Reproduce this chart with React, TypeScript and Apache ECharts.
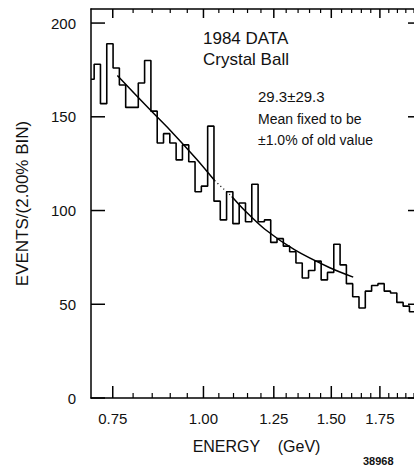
import React, { useEffect, useRef } from "react";
import * as echarts from "echarts";

// Histogram: bins of 0.02 in ln(E) ("2.00% bins"), first bin centred on 0.70 GeV
const BIN_FIRST_CENTER_GEV = 0.7;
const BIN_LOG_WIDTH = 0.02;
const binCounts = [
  170, 178, 157, 189, 176, 167, 155, 155, 168, 180, 153, 136, 141, 136, 127, 135,
  126, 110, 113, 145, 105, 95, 110, 93, 104, 94, 114, 94, 95, 83, 85, 81, 78, 72,
  64, 68, 73, 63, 67, 82, 71, 61, 54, 48, 57, 60, 61, 57, 56, 51, 49, 46, 45,
];

// Fitted curve (solid, with a short dotted stretch between indices 4 and 5)
const fitEnergy = [0.761, 0.843, 0.899, 0.978, 1.036, 1.094, 1.14, 1.215, 1.336, 1.493, 1.608];
const fitEvents = [172, 154, 143, 127.5, 116, 107.5, 100, 90, 79, 69.5, 64.5];
const FIT_DOT_FROM = 4;
const FIT_DOT_TO = 5;

// Axes
const X_MIN = 0.7;
const X_MAX = 2.0;
const Y_MIN = 0;
const Y_MAX = 207.5;
const Y_STEP = 50;
const xMajorTicks = [0.75, 1.0, 1.25, 1.5, 1.75];
const xMinorTicks = [
  0.8, 0.85, 0.9, 0.95, 1.05, 1.1, 1.15, 1.2, 1.3, 1.35, 1.4, 1.45, 1.55, 1.6, 1.65,
  1.7, 1.8, 1.85, 1.9, 1.95,
];
const yTicks = [0, 50, 100, 150, 200];

const X_TITLE = "ENERGY    (GeV)";
const Y_TITLE = "EVENTS/(2.00% BIN)";
const notes = [
  { text: "1984 DATA", x: 203, y: 40, size: 17 },
  { text: "Crystal Ball", x: 203, y: 61, size: 17 },
  { text: "29.3±29.3", x: 258, y: 98, size: 15 },
  { text: "Mean fixed to be", x: 258, y: 120, size: 14 },
  { text: "±1.0% of old value", x: 258, y: 141, size: 14 },
];
const FIG_ID = "38968";

const INK = "#000";
const TEXT = "#111";

export default function App() {
  const ref = useRef<HTMLDivElement>(null);

  useEffect(() => {
    if (!ref.current) return;
    const chart = echarts.init(ref.current, null, { renderer: "svg" });

    const ln = Math.log;
    const hist = binCounts.map((c, k) => [ln(BIN_FIRST_CENTER_GEV) + k * BIN_LOG_WIDTH, c]);
    const fit = fitEnergy.map((e, i) => [ln(e), fitEvents[i]]);
    // energy ticks: [ln(E), isMajor]
    const xTickData = [
      ...xMajorTicks.map((v) => [ln(v), 1]),
      ...xMinorTicks.map((v) => [ln(v), 0]),
    ];
    // event-count ticks along both vertical edges: [ln(Emin), events]
    const yTickData = yTicks.map((v) => [ln(X_MIN), v]);

    const axisLine = { show: true, onZero: false, lineStyle: { color: INK, width: 1.5 } };

    chart.setOption({
      animation: false,
      backgroundColor: "#fff",
      title: [
        ...notes.map((n) => ({
          text: n.text,
          left: n.x,
          top: n.y - Math.round(n.size * 0.6),
          padding: 0,
          textStyle: { fontSize: n.size, fontWeight: "normal", color: TEXT },
        })),
        {
          text: FIG_ID,
          left: 363,
          top: 455,
          padding: 0,
          textStyle: { fontSize: 11, fontWeight: "bold", color: TEXT },
        },
      ],
      grid: {
        left: 91,
        top: 9,
        width: 331,
        height: 389,
        containLabel: false,
        outerBoundsMode: "none",
      },
      xAxis: [
        {
          type: "value",
          min: ln(X_MIN),
          max: ln(X_MAX),
          position: "bottom",
          splitLine: { show: false },
          axisLine,
          axisTick: { show: false },
          axisLabel: { show: false },
          name: X_TITLE,
          nameLocation: "middle",
          nameGap: 40,
          nameTextStyle: { fontSize: 16, color: TEXT },
        },
        {
          type: "value",
          min: ln(X_MIN),
          max: ln(X_MAX),
          position: "top",
          splitLine: { show: false },
          axisLine,
          axisTick: { show: false },
          axisLabel: { show: false },
        },
      ],
      yAxis: [
        {
          type: "value",
          min: Y_MIN,
          max: Y_MAX,
          interval: Y_STEP,
          position: "left",
          splitLine: { show: false },
          axisLine,
          axisTick: { show: false },
          axisLabel: { showMaxLabel: false, fontSize: 15, color: TEXT, margin: 15 },
          name: Y_TITLE,
          nameLocation: "middle",
          nameRotate: 90,
          nameGap: 60,
          nameTextStyle: { fontSize: 17, color: TEXT },
        },
        {
          type: "value",
          min: Y_MIN,
          max: Y_MAX,
          interval: Y_STEP,
          position: "right",
          splitLine: { show: false },
          axisLine,
          axisTick: { show: false },
          axisLabel: { show: false },
        },
      ],
      series: [
        {
          type: "line",
          step: "middle",
          symbol: "none",
          data: hist,
          lineStyle: { color: INK, width: 1.6 },
          z: 3,
        },
        {
          type: "line",
          smooth: 0.3,
          symbol: "none",
          data: fit.slice(0, FIT_DOT_FROM + 1),
          lineStyle: { color: INK, width: 1.5 },
        },
        {
          type: "line",
          symbol: "none",
          data: fit.slice(FIT_DOT_FROM, FIT_DOT_TO + 1),
          lineStyle: { color: INK, width: 1.3, type: [1, 3] },
        },
        {
          type: "line",
          smooth: 0.3,
          symbol: "none",
          data: fit.slice(FIT_DOT_TO),
          lineStyle: { color: INK, width: 1.5 },
        },
        {
          // log-spaced energy ticks (bottom and top, inward) and their labels
          type: "custom",
          data: xTickData,
          renderItem: (_params: any, api: any) => {
            const x = api.value(0);
            const major = api.value(1) === 1;
            const b = api.coord([x, Y_MIN]);
            const t = api.coord([x, Y_MAX]);
            const w = major ? 1.5 : 1.2;
            const hb = major ? 12 : 5;
            const ht = major ? 9 : 4;
            const children: any[] = [
              { type: "rect", shape: { x: b[0] - w / 2, y: b[1] - hb, width: w, height: hb }, style: { fill: INK } },
              { type: "rect", shape: { x: t[0] - w / 2, y: t[1], width: w, height: ht }, style: { fill: INK } },
            ];
            if (major) {
              children.push({
                type: "text",
                x: b[0],
                y: b[1] + 20,
                style: {
                  text: Math.exp(x).toFixed(2),
                  fontSize: 15,
                  fill: TEXT,
                  textAlign: "center",
                  textVerticalAlign: "middle",
                },
              });
            }
            return { type: "group", children };
          },
          z: 4,
        },
        {
          // event-count ticks on the left and right frame, inward
          type: "custom",
          data: yTickData,
          renderItem: (_params: any, api: any) => {
            const v = api.value(1);
            const l = api.coord([ln(X_MIN), v]);
            const r = api.coord([ln(X_MAX), v]);
            return {
              type: "group",
              children: [
                { type: "rect", shape: { x: l[0], y: l[1] - 0.75, width: 14, height: 1.5 }, style: { fill: INK } },
                { type: "rect", shape: { x: r[0] - 14, y: r[1] - 0.75, width: 14, height: 1.5 }, style: { fill: INK } },
              ],
            };
          },
          z: 4,
        },
      ],
    });

    return () => chart.dispose();
  }, []);

  return (
    <div
      ref={ref}
      style={{ position: "fixed", left: 0, top: 0, width: 414, height: 467, background: "#fff" }}
    />
  );
}
